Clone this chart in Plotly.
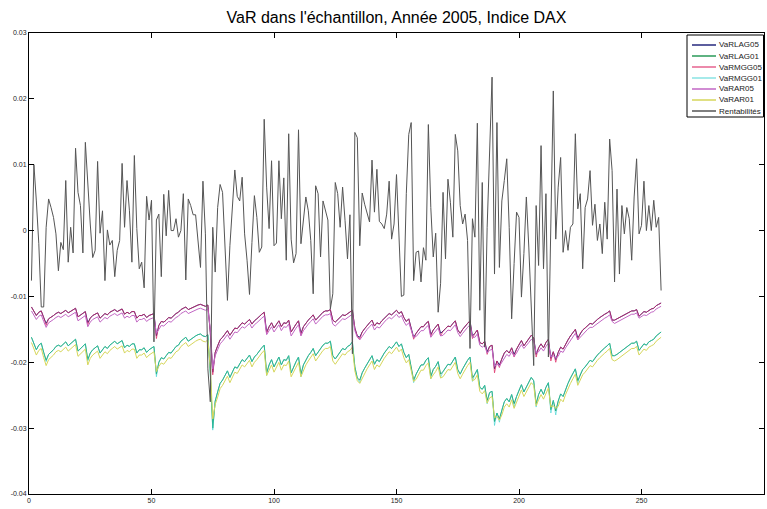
import plotly.graph_objects as go

# ---------------- data ----------------
Rentabilites = [-0.0076, 0.0100, 0.0045, -0.0020, -0.0116, -0.0116, 0.0005, 0.0048, 0.0035, 0.0020,
 -0.0005, -0.0061, -0.0018, -0.0029, 0.0076, -0.0048, 0.0005, -0.0034, 0.0125, 0.0058,
 0.0038, -0.0034, 0.0134, 0.0066, 0.0010, -0.0041, -0.0030, 0.0105, -0.0004, 0.0030,
 -0.0076, 0.0001, -0.0022, -0.0015, -0.0070, -0.0030, -0.0015, 0.0102, 0.0005, 0.0076,
 0.0030, -0.0048, 0.0114, 0.0003, -0.0058, -0.0048, -0.0087, 0.0052, 0.0016, 0.0046,
 -0.0169, 0.0016, 0.0025, -0.0070, 0.0055, -0.0008, 0.0061, 0.0000, 0.0000, 0.0018,
 -0.0010, 0.0000, 0.0056, -0.0075, 0.0048, 0.0038, 0.0024, 0.0024, -0.0015, -0.0056,
 0.0075, -0.0005, -0.0210, -0.0260, 0.0005, -0.0063, 0.0035, 0.0070, 0.0058, -0.0025,
 -0.0106, -0.0023, 0.0028, 0.0092, 0.0052, 0.0045, 0.0081, -0.0005, -0.0045, -0.0097,
 -0.0018, 0.0053, 0.0020, -0.0033, -0.0025, 0.0169, 0.0066, 0.0003, 0.0106, -0.0023,
 -0.0019, 0.0106, 0.0018, 0.0080, -0.0045, 0.0147, -0.0013, -0.0049, -0.0035, 0.0153,
 -0.0020, 0.0015, 0.0051, 0.0030, -0.0015, -0.0096, 0.0068, 0.0056, -0.0040, 0.0045,
 0.0030, 0.0016, -0.0119, -0.0096, 0.0073, 0.0056, 0.0005, 0.0066, 0.0015, -0.0043,
 0.0024, -0.0187, 0.0149, 0.0141, -0.0023, 0.0057, 0.0040, 0.0025, 0.0013, 0.0107,
 0.0028, 0.0093, 0.0014, 0.0010, 0.0003, 0.0025, 0.0075, -0.0013, 0.0010, 0.0085,
 -0.0010, -0.0100, -0.0098, 0.0056, 0.0146, 0.0164, -0.0076, -0.0033, -0.0031, -0.0078,
 -0.0026, -0.0045, 0.0161, 0.0035, -0.0040, -0.0004, -0.0124, -0.0080, 0.0058, -0.0043,
 0.0078, 0.0043, -0.0010, 0.0146, 0.0121, 0.0038, 0.0010, 0.0025, -0.0015, -0.0179,
 0.0018, -0.0010, 0.0163, -0.0121, 0.0073, -0.0177, 0.0005, 0.0106, 0.0233, -0.0066,
 0.0164, -0.0056, 0.0045, 0.0076, 0.0109, 0.0005, -0.0134, -0.0050, 0.0028, 0.0020,
 -0.0101, -0.0035, 0.0051, -0.0025, -0.0106, -0.0205, 0.0038, -0.0053, 0.0129, -0.0058,
 0.0056, -0.0192, 0.0010, 0.0212, -0.0013, 0.0066, 0.0111, -0.0033, 0.0000, -0.0030,
 0.0005, 0.0010, 0.0147, 0.0033, 0.0056, -0.0058, 0.0035, 0.0048, 0.0091, 0.0008,
 0.0040, -0.0015, 0.0010, -0.0035, 0.0043, -0.0013, 0.0139, 0.0091, -0.0078, 0.0063,
 -0.0066, 0.0038, -0.0005, 0.0035, 0.0018, -0.0045, 0.0051, 0.0109, -0.0005, 0.0008,
 0.0075, 0.0000, 0.0038, 0.0000, 0.0046, 0.0005, 0.0020, -0.0091]

VaRLAG05 = [-0.0116, -0.0122, -0.0129, -0.0124, -0.0122, -0.0132, -0.0141, -0.0134, -0.0132, -0.0129,
 -0.0126, -0.0124, -0.0126, -0.0123, -0.0121, -0.0125, -0.0123, -0.0120, -0.0118, -0.0131,
 -0.0128, -0.0125, -0.0123, -0.0140, -0.0133, -0.0129, -0.0127, -0.0125, -0.0133, -0.0129,
 -0.0126, -0.0128, -0.0124, -0.0122, -0.0120, -0.0123, -0.0121, -0.0119, -0.0127, -0.0124,
 -0.0126, -0.0123, -0.0123, -0.0133, -0.0129, -0.0129, -0.0127, -0.0132, -0.0129, -0.0127,
 -0.0126, -0.0160, -0.0144, -0.0138, -0.0139, -0.0136, -0.0132, -0.0133, -0.0129, -0.0126,
 -0.0124, -0.0120, -0.0118, -0.0116, -0.0120, -0.0118, -0.0116, -0.0114, -0.0113, -0.0112,
 -0.0114, -0.0115, -0.0113, -0.0155, -0.0215, -0.0185, -0.0175, -0.0166, -0.0162, -0.0157,
 -0.0152, -0.0159, -0.0153, -0.0148, -0.0149, -0.0144, -0.0140, -0.0142, -0.0138, -0.0135,
 -0.0142, -0.0137, -0.0134, -0.0130, -0.0127, -0.0124, -0.0154, -0.0146, -0.0140, -0.0148,
 -0.0142, -0.0137, -0.0146, -0.0140, -0.0141, -0.0136, -0.0154, -0.0147, -0.0142, -0.0137,
 -0.0156, -0.0146, -0.0140, -0.0136, -0.0132, -0.0128, -0.0136, -0.0132, -0.0128, -0.0124,
 -0.0122, -0.0122, -0.0120, -0.0136, -0.0139, -0.0135, -0.0131, -0.0128, -0.0129, -0.0126,
 -0.0124, -0.0121, -0.0148, -0.0160, -0.0162, -0.0154, -0.0149, -0.0144, -0.0140, -0.0136,
 -0.0145, -0.0140, -0.0142, -0.0137, -0.0133, -0.0129, -0.0126, -0.0128, -0.0124, -0.0121,
 -0.0126, -0.0123, -0.0132, -0.0138, -0.0134, -0.0148, -0.0162, -0.0156, -0.0150, -0.0146,
 -0.0146, -0.0141, -0.0138, -0.0158, -0.0151, -0.0147, -0.0142, -0.0156, -0.0153, -0.0149,
 -0.0145, -0.0146, -0.0141, -0.0137, -0.0151, -0.0156, -0.0150, -0.0145, -0.0141, -0.0137,
 -0.0160, -0.0156, -0.0151, -0.0170, -0.0172, -0.0168, -0.0184, -0.0176, -0.0174, -0.0210,
 -0.0198, -0.0204, -0.0194, -0.0186, -0.0182, -0.0186, -0.0178, -0.0188, -0.0180, -0.0173,
 -0.0167, -0.0175, -0.0169, -0.0164, -0.0159, -0.0163, -0.0188, -0.0178, -0.0172, -0.0178,
 -0.0170, -0.0165, -0.0194, -0.0184, -0.0196, -0.0185, -0.0177, -0.0180, -0.0172, -0.0166,
 -0.0160, -0.0155, -0.0150, -0.0163, -0.0156, -0.0151, -0.0148, -0.0144, -0.0141, -0.0142,
 -0.0138, -0.0135, -0.0132, -0.0129, -0.0127, -0.0125, -0.0122, -0.0136, -0.0136, -0.0134,
 -0.0132, -0.0130, -0.0128, -0.0126, -0.0124, -0.0122, -0.0122, -0.0120, -0.0130, -0.0126,
 -0.0123, -0.0124, -0.0121, -0.0119, -0.0118, -0.0114, -0.0112, -0.0110]

VaRMGG05 = [-0.0116, -0.0122, -0.0129, -0.0124, -0.0122, -0.0132, -0.0144, -0.0134, -0.0132, -0.0129,
 -0.0126, -0.0124, -0.0126, -0.0123, -0.0121, -0.0125, -0.0123, -0.0120, -0.0118, -0.0131,
 -0.0128, -0.0125, -0.0123, -0.0143, -0.0133, -0.0129, -0.0127, -0.0125, -0.0133, -0.0129,
 -0.0126, -0.0128, -0.0124, -0.0122, -0.0120, -0.0123, -0.0121, -0.0119, -0.0127, -0.0124,
 -0.0126, -0.0123, -0.0123, -0.0133, -0.0129, -0.0129, -0.0127, -0.0132, -0.0129, -0.0127,
 -0.0126, -0.0164, -0.0144, -0.0138, -0.0139, -0.0136, -0.0132, -0.0133, -0.0129, -0.0126,
 -0.0124, -0.0120, -0.0118, -0.0116, -0.0120, -0.0118, -0.0116, -0.0114, -0.0113, -0.0112,
 -0.0114, -0.0115, -0.0113, -0.0155, -0.0219, -0.0185, -0.0175, -0.0166, -0.0162, -0.0157,
 -0.0152, -0.0159, -0.0153, -0.0148, -0.0149, -0.0144, -0.0140, -0.0142, -0.0138, -0.0135,
 -0.0142, -0.0137, -0.0134, -0.0130, -0.0127, -0.0124, -0.0157, -0.0146, -0.0140, -0.0148,
 -0.0142, -0.0137, -0.0146, -0.0140, -0.0141, -0.0136, -0.0154, -0.0147, -0.0142, -0.0137,
 -0.0159, -0.0146, -0.0140, -0.0136, -0.0132, -0.0128, -0.0136, -0.0132, -0.0128, -0.0124,
 -0.0122, -0.0122, -0.0120, -0.0136, -0.0139, -0.0135, -0.0131, -0.0128, -0.0129, -0.0126,
 -0.0124, -0.0121, -0.0148, -0.0160, -0.0165, -0.0154, -0.0149, -0.0144, -0.0140, -0.0136,
 -0.0145, -0.0140, -0.0142, -0.0137, -0.0133, -0.0129, -0.0126, -0.0128, -0.0124, -0.0121,
 -0.0126, -0.0123, -0.0132, -0.0138, -0.0134, -0.0148, -0.0165, -0.0156, -0.0150, -0.0146,
 -0.0146, -0.0141, -0.0138, -0.0161, -0.0151, -0.0147, -0.0142, -0.0160, -0.0153, -0.0149,
 -0.0145, -0.0146, -0.0141, -0.0137, -0.0151, -0.0156, -0.0150, -0.0145, -0.0141, -0.0137,
 -0.0164, -0.0156, -0.0151, -0.0170, -0.0172, -0.0168, -0.0188, -0.0176, -0.0174, -0.0216,
 -0.0198, -0.0208, -0.0194, -0.0186, -0.0182, -0.0186, -0.0178, -0.0192, -0.0180, -0.0173,
 -0.0167, -0.0175, -0.0169, -0.0164, -0.0159, -0.0163, -0.0192, -0.0178, -0.0172, -0.0178,
 -0.0170, -0.0165, -0.0198, -0.0184, -0.0200, -0.0185, -0.0177, -0.0180, -0.0172, -0.0166,
 -0.0160, -0.0155, -0.0150, -0.0166, -0.0156, -0.0151, -0.0148, -0.0144, -0.0141, -0.0142,
 -0.0138, -0.0135, -0.0132, -0.0129, -0.0127, -0.0125, -0.0122, -0.0136, -0.0136, -0.0134,
 -0.0132, -0.0130, -0.0128, -0.0126, -0.0124, -0.0122, -0.0122, -0.0120, -0.0130, -0.0126,
 -0.0123, -0.0124, -0.0121, -0.0119, -0.0118, -0.0114, -0.0112, -0.0110]

VaRAR05 = [-0.0122, -0.0128, -0.0135, -0.0130, -0.0128, -0.0138, -0.0147, -0.0140, -0.0138, -0.0135,
 -0.0132, -0.0130, -0.0132, -0.0129, -0.0127, -0.0131, -0.0129, -0.0126, -0.0124, -0.0137,
 -0.0134, -0.0131, -0.0129, -0.0146, -0.0139, -0.0135, -0.0133, -0.0131, -0.0139, -0.0135,
 -0.0132, -0.0134, -0.0130, -0.0128, -0.0126, -0.0129, -0.0127, -0.0125, -0.0133, -0.0130,
 -0.0132, -0.0129, -0.0129, -0.0139, -0.0135, -0.0135, -0.0133, -0.0138, -0.0135, -0.0133,
 -0.0132, -0.0156, -0.0149, -0.0144, -0.0145, -0.0142, -0.0138, -0.0139, -0.0135, -0.0132,
 -0.0130, -0.0126, -0.0124, -0.0122, -0.0126, -0.0124, -0.0122, -0.0120, -0.0119, -0.0118,
 -0.0120, -0.0121, -0.0119, -0.0149, -0.0210, -0.0190, -0.0181, -0.0172, -0.0168, -0.0163,
 -0.0158, -0.0165, -0.0159, -0.0154, -0.0155, -0.0150, -0.0146, -0.0148, -0.0144, -0.0141,
 -0.0148, -0.0143, -0.0140, -0.0136, -0.0133, -0.0130, -0.0158, -0.0152, -0.0146, -0.0154,
 -0.0148, -0.0143, -0.0152, -0.0146, -0.0147, -0.0142, -0.0160, -0.0153, -0.0148, -0.0143,
 -0.0160, -0.0152, -0.0146, -0.0142, -0.0138, -0.0134, -0.0142, -0.0138, -0.0134, -0.0130,
 -0.0128, -0.0128, -0.0126, -0.0142, -0.0145, -0.0141, -0.0137, -0.0134, -0.0135, -0.0132,
 -0.0130, -0.0127, -0.0152, -0.0162, -0.0166, -0.0160, -0.0155, -0.0150, -0.0146, -0.0142,
 -0.0151, -0.0146, -0.0148, -0.0143, -0.0139, -0.0135, -0.0132, -0.0134, -0.0130, -0.0127,
 -0.0132, -0.0129, -0.0138, -0.0144, -0.0140, -0.0152, -0.0162, -0.0161, -0.0156, -0.0152,
 -0.0152, -0.0147, -0.0144, -0.0162, -0.0157, -0.0153, -0.0148, -0.0160, -0.0159, -0.0155,
 -0.0151, -0.0152, -0.0147, -0.0143, -0.0155, -0.0161, -0.0156, -0.0151, -0.0147, -0.0143,
 -0.0162, -0.0162, -0.0157, -0.0174, -0.0177, -0.0174, -0.0186, -0.0182, -0.0180, -0.0206,
 -0.0203, -0.0206, -0.0200, -0.0192, -0.0188, -0.0191, -0.0184, -0.0191, -0.0186, -0.0179,
 -0.0173, -0.0179, -0.0175, -0.0170, -0.0165, -0.0168, -0.0186, -0.0184, -0.0178, -0.0183,
 -0.0176, -0.0171, -0.0192, -0.0190, -0.0194, -0.0191, -0.0183, -0.0185, -0.0178, -0.0172,
 -0.0166, -0.0161, -0.0156, -0.0166, -0.0162, -0.0157, -0.0154, -0.0150, -0.0147, -0.0147,
 -0.0144, -0.0141, -0.0138, -0.0135, -0.0133, -0.0131, -0.0128, -0.0138, -0.0141, -0.0139,
 -0.0137, -0.0135, -0.0133, -0.0131, -0.0129, -0.0127, -0.0127, -0.0125, -0.0133, -0.0131,
 -0.0128, -0.0129, -0.0126, -0.0124, -0.0123, -0.0119, -0.0117, -0.0115]

VaRLAG01 = [-0.0162, -0.0171, -0.0181, -0.0174, -0.0171, -0.0185, -0.0197, -0.0188, -0.0185, -0.0181,
 -0.0176, -0.0174, -0.0176, -0.0172, -0.0169, -0.0175, -0.0172, -0.0168, -0.0165, -0.0183,
 -0.0179, -0.0175, -0.0172, -0.0196, -0.0186, -0.0181, -0.0178, -0.0175, -0.0186, -0.0181,
 -0.0176, -0.0179, -0.0174, -0.0171, -0.0168, -0.0172, -0.0169, -0.0167, -0.0178, -0.0174,
 -0.0176, -0.0172, -0.0172, -0.0186, -0.0181, -0.0181, -0.0178, -0.0185, -0.0181, -0.0178,
 -0.0176, -0.0218, -0.0200, -0.0193, -0.0195, -0.0190, -0.0185, -0.0186, -0.0181, -0.0176,
 -0.0174, -0.0168, -0.0165, -0.0162, -0.0168, -0.0165, -0.0162, -0.0160, -0.0158, -0.0157,
 -0.0160, -0.0161, -0.0158, -0.0217, -0.0300, -0.0259, -0.0245, -0.0232, -0.0227, -0.0220,
 -0.0213, -0.0223, -0.0214, -0.0207, -0.0209, -0.0202, -0.0196, -0.0199, -0.0193, -0.0189,
 -0.0199, -0.0192, -0.0188, -0.0182, -0.0178, -0.0174, -0.0216, -0.0204, -0.0196, -0.0207,
 -0.0199, -0.0192, -0.0204, -0.0196, -0.0197, -0.0190, -0.0216, -0.0206, -0.0199, -0.0192,
 -0.0218, -0.0204, -0.0196, -0.0190, -0.0185, -0.0179, -0.0190, -0.0185, -0.0179, -0.0174,
 -0.0171, -0.0171, -0.0168, -0.0190, -0.0195, -0.0189, -0.0183, -0.0179, -0.0181, -0.0176,
 -0.0174, -0.0169, -0.0207, -0.0224, -0.0227, -0.0216, -0.0209, -0.0202, -0.0196, -0.0190,
 -0.0203, -0.0196, -0.0199, -0.0192, -0.0186, -0.0181, -0.0176, -0.0179, -0.0174, -0.0169,
 -0.0176, -0.0172, -0.0185, -0.0193, -0.0188, -0.0207, -0.0227, -0.0218, -0.0210, -0.0204,
 -0.0204, -0.0197, -0.0193, -0.0221, -0.0211, -0.0206, -0.0199, -0.0218, -0.0214, -0.0209,
 -0.0203, -0.0204, -0.0197, -0.0192, -0.0211, -0.0218, -0.0210, -0.0203, -0.0197, -0.0192,
 -0.0224, -0.0218, -0.0211, -0.0238, -0.0241, -0.0235, -0.0258, -0.0246, -0.0244, -0.0290,
 -0.0277, -0.0286, -0.0272, -0.0260, -0.0255, -0.0260, -0.0249, -0.0263, -0.0252, -0.0242,
 -0.0234, -0.0245, -0.0237, -0.0230, -0.0223, -0.0228, -0.0263, -0.0249, -0.0241, -0.0249,
 -0.0238, -0.0231, -0.0272, -0.0258, -0.0274, -0.0259, -0.0248, -0.0252, -0.0241, -0.0232,
 -0.0224, -0.0217, -0.0210, -0.0228, -0.0218, -0.0211, -0.0207, -0.0202, -0.0197, -0.0199,
 -0.0193, -0.0189, -0.0185, -0.0181, -0.0178, -0.0175, -0.0171, -0.0190, -0.0190, -0.0188,
 -0.0185, -0.0182, -0.0179, -0.0176, -0.0174, -0.0171, -0.0171, -0.0168, -0.0182, -0.0176,
 -0.0172, -0.0174, -0.0169, -0.0167, -0.0165, -0.0160, -0.0157, -0.0154]

VaRMGG01 = [-0.0162, -0.0171, -0.0181, -0.0174, -0.0171, -0.0185, -0.0199, -0.0188, -0.0185, -0.0181,
 -0.0176, -0.0174, -0.0176, -0.0172, -0.0169, -0.0175, -0.0172, -0.0168, -0.0165, -0.0183,
 -0.0179, -0.0175, -0.0172, -0.0198, -0.0186, -0.0181, -0.0178, -0.0175, -0.0186, -0.0181,
 -0.0176, -0.0179, -0.0174, -0.0171, -0.0168, -0.0172, -0.0169, -0.0167, -0.0178, -0.0174,
 -0.0176, -0.0172, -0.0172, -0.0186, -0.0181, -0.0181, -0.0178, -0.0185, -0.0181, -0.0178,
 -0.0176, -0.0222, -0.0200, -0.0193, -0.0195, -0.0190, -0.0185, -0.0186, -0.0181, -0.0176,
 -0.0174, -0.0168, -0.0165, -0.0162, -0.0168, -0.0165, -0.0162, -0.0160, -0.0158, -0.0157,
 -0.0160, -0.0161, -0.0158, -0.0217, -0.0303, -0.0259, -0.0245, -0.0232, -0.0227, -0.0220,
 -0.0213, -0.0223, -0.0214, -0.0207, -0.0209, -0.0202, -0.0196, -0.0199, -0.0193, -0.0189,
 -0.0199, -0.0192, -0.0188, -0.0182, -0.0178, -0.0174, -0.0220, -0.0204, -0.0196, -0.0207,
 -0.0199, -0.0192, -0.0204, -0.0196, -0.0197, -0.0190, -0.0216, -0.0206, -0.0199, -0.0192,
 -0.0222, -0.0204, -0.0196, -0.0190, -0.0185, -0.0179, -0.0190, -0.0185, -0.0179, -0.0174,
 -0.0171, -0.0171, -0.0168, -0.0190, -0.0195, -0.0189, -0.0183, -0.0179, -0.0181, -0.0176,
 -0.0174, -0.0169, -0.0207, -0.0224, -0.0231, -0.0216, -0.0209, -0.0202, -0.0196, -0.0190,
 -0.0203, -0.0196, -0.0199, -0.0192, -0.0186, -0.0181, -0.0176, -0.0179, -0.0174, -0.0169,
 -0.0176, -0.0172, -0.0185, -0.0193, -0.0188, -0.0207, -0.0231, -0.0218, -0.0210, -0.0204,
 -0.0204, -0.0197, -0.0193, -0.0225, -0.0211, -0.0206, -0.0199, -0.0223, -0.0214, -0.0209,
 -0.0203, -0.0204, -0.0197, -0.0192, -0.0211, -0.0218, -0.0210, -0.0203, -0.0197, -0.0192,
 -0.0229, -0.0218, -0.0211, -0.0238, -0.0241, -0.0235, -0.0263, -0.0246, -0.0244, -0.0296,
 -0.0277, -0.0291, -0.0272, -0.0260, -0.0255, -0.0260, -0.0249, -0.0268, -0.0252, -0.0242,
 -0.0234, -0.0245, -0.0237, -0.0230, -0.0223, -0.0228, -0.0268, -0.0249, -0.0241, -0.0249,
 -0.0238, -0.0231, -0.0277, -0.0258, -0.0280, -0.0259, -0.0248, -0.0252, -0.0241, -0.0232,
 -0.0224, -0.0217, -0.0210, -0.0232, -0.0218, -0.0211, -0.0207, -0.0202, -0.0197, -0.0199,
 -0.0193, -0.0189, -0.0185, -0.0181, -0.0178, -0.0175, -0.0171, -0.0190, -0.0190, -0.0188,
 -0.0185, -0.0182, -0.0179, -0.0176, -0.0174, -0.0171, -0.0171, -0.0168, -0.0182, -0.0176,
 -0.0172, -0.0174, -0.0169, -0.0167, -0.0165, -0.0160, -0.0157, -0.0154]

VaRAR01 = [-0.0170, -0.0179, -0.0189, -0.0182, -0.0179, -0.0193, -0.0205, -0.0196, -0.0193, -0.0189,
 -0.0184, -0.0182, -0.0184, -0.0180, -0.0177, -0.0183, -0.0180, -0.0176, -0.0173, -0.0191,
 -0.0187, -0.0183, -0.0180, -0.0204, -0.0194, -0.0189, -0.0186, -0.0183, -0.0194, -0.0189,
 -0.0184, -0.0187, -0.0182, -0.0179, -0.0176, -0.0180, -0.0177, -0.0175, -0.0186, -0.0182,
 -0.0184, -0.0180, -0.0180, -0.0194, -0.0189, -0.0189, -0.0186, -0.0193, -0.0189, -0.0186,
 -0.0184, -0.0214, -0.0206, -0.0201, -0.0203, -0.0198, -0.0193, -0.0194, -0.0189, -0.0184,
 -0.0182, -0.0176, -0.0173, -0.0170, -0.0176, -0.0173, -0.0170, -0.0168, -0.0166, -0.0165,
 -0.0168, -0.0169, -0.0166, -0.0208, -0.0286, -0.0264, -0.0253, -0.0240, -0.0235, -0.0228,
 -0.0221, -0.0231, -0.0222, -0.0215, -0.0217, -0.0210, -0.0204, -0.0207, -0.0201, -0.0197,
 -0.0207, -0.0200, -0.0196, -0.0190, -0.0186, -0.0182, -0.0220, -0.0212, -0.0204, -0.0215,
 -0.0207, -0.0200, -0.0212, -0.0204, -0.0205, -0.0198, -0.0222, -0.0214, -0.0207, -0.0200,
 -0.0222, -0.0212, -0.0204, -0.0198, -0.0193, -0.0187, -0.0198, -0.0193, -0.0187, -0.0182,
 -0.0179, -0.0179, -0.0176, -0.0198, -0.0203, -0.0197, -0.0191, -0.0187, -0.0189, -0.0184,
 -0.0182, -0.0177, -0.0213, -0.0228, -0.0232, -0.0224, -0.0217, -0.0210, -0.0204, -0.0198,
 -0.0211, -0.0204, -0.0207, -0.0200, -0.0194, -0.0189, -0.0184, -0.0187, -0.0182, -0.0177,
 -0.0184, -0.0180, -0.0193, -0.0201, -0.0196, -0.0215, -0.0229, -0.0226, -0.0218, -0.0212,
 -0.0212, -0.0205, -0.0201, -0.0225, -0.0219, -0.0214, -0.0207, -0.0224, -0.0222, -0.0217,
 -0.0211, -0.0212, -0.0205, -0.0200, -0.0217, -0.0225, -0.0218, -0.0211, -0.0205, -0.0200,
 -0.0228, -0.0226, -0.0219, -0.0244, -0.0248, -0.0243, -0.0262, -0.0254, -0.0252, -0.0284,
 -0.0282, -0.0288, -0.0280, -0.0268, -0.0263, -0.0268, -0.0257, -0.0270, -0.0260, -0.0250,
 -0.0242, -0.0252, -0.0245, -0.0238, -0.0231, -0.0235, -0.0266, -0.0257, -0.0249, -0.0256,
 -0.0246, -0.0239, -0.0268, -0.0266, -0.0270, -0.0267, -0.0256, -0.0260, -0.0249, -0.0240,
 -0.0232, -0.0225, -0.0218, -0.0235, -0.0226, -0.0219, -0.0215, -0.0210, -0.0205, -0.0207,
 -0.0201, -0.0197, -0.0193, -0.0189, -0.0186, -0.0183, -0.0179, -0.0196, -0.0198, -0.0196,
 -0.0193, -0.0190, -0.0187, -0.0184, -0.0182, -0.0179, -0.0179, -0.0176, -0.0189, -0.0184,
 -0.0180, -0.0182, -0.0177, -0.0175, -0.0173, -0.0168, -0.0165, -0.0162]

x_ticks = [0, 50, 100, 150, 200, 250, 300]
y_ticks = [-0.04, -0.03, -0.02, -0.01, 0, 0.01, 0.02, 0.03]
y_tick_labels = ["-0.04", "-0.03", "-0.02", "-0.01", "0", "0.01", "0.02", "0.03"]

series_names = ["VaRLAG05", "VaRLAG01", "VaRMGG05", "VaRMGG01", "VaRAR05", "VaRAR01", "Rentabilités"]
series_values = [VaRLAG05, VaRLAG01, VaRMGG05, VaRMGG01, VaRAR05, VaRAR01, Rentabilites]
series_colors = ["#26287e", "#2a9a58", "rgba(220,40,100,0.72)", "rgba(40,205,205,0.55)",
                 "#c266c4", "#d6d65a", "#555555"]

FONT = "Liberation Sans, Arial, sans-serif"

# plot area in pixels (figure 767 x 509)
L, R, T, B = 29, 764, 33, 494
W, H = 767, 509

fig = go.Figure()
for name, vals, col in zip(series_names, series_values, series_colors):
    fig.add_trace(go.Scatter(
        x=list(range(1, len(vals) + 1)), y=vals, mode="lines", name=name,
        line=dict(color=col, width=1), hoverinfo="skip", showlegend=False))

# compact MATLAB-style legend box (top right, inside the axes)
def px_x(p):
    return (p - L) / (R - L)

def px_y(p):
    return (B - p) / (B - T)

shapes = [dict(type="rect", xref="paper", yref="paper",
               x0=px_x(687), x1=px_x(763.5), y0=px_y(117), y1=px_y(35),
               line=dict(color="black", width=1), fillcolor="white", layer="above")]
annotations = []
for i, (name, col) in enumerate(zip(series_names, series_colors)):
    yy = 45 + 11 * i
    shapes.append(dict(type="line", xref="paper", yref="paper",
                       x0=px_x(692), x1=px_x(716), y0=px_y(yy), y1=px_y(yy),
                       line=dict(color=col, width=1.5), layer="above"))
    annotations.append(dict(text=name, xref="paper", yref="paper",
                            x=px_x(717), y=px_y(yy), xanchor="left", yanchor="middle",
                            showarrow=False, font=dict(family=FONT, size=8, color="#222")))

axis_common = dict(showgrid=False, zeroline=False, showline=True, linecolor="black",
                   linewidth=1, mirror="ticks", ticks="inside", ticklen=5,
                   tickcolor="black", automargin=False,
                   tickfont=dict(family=FONT, size=7, color="#222"))

fig.update_layout(
    width=W, height=H,
    paper_bgcolor="white", plot_bgcolor="white",
    margin=dict(l=L, r=W - R, t=T, b=H - B, autoexpand=False),
    title=dict(text="VaR dans l'échantillon, Année 2005, Indice DAX",
               x=0.5, xref="paper", xanchor="center",
               y=1 - 17 / H, yref="container", yanchor="middle",
               font=dict(family=FONT, size=16, color="black")),
    xaxis=dict(range=[0, 300], tickvals=x_ticks, ticktext=[str(v) for v in x_ticks], **axis_common),
    yaxis=dict(range=[-0.04, 0.03], tickvals=y_ticks, ticktext=y_tick_labels, **axis_common),
    showlegend=False,
    shapes=shapes,
    annotations=annotations,
)

# remove the browser's default 8px body margin so the figure sits at (0, 0)
fig.write_html("out.html", config={"displayModeBar": False},
               post_script="document.body.style.margin='0px';")
